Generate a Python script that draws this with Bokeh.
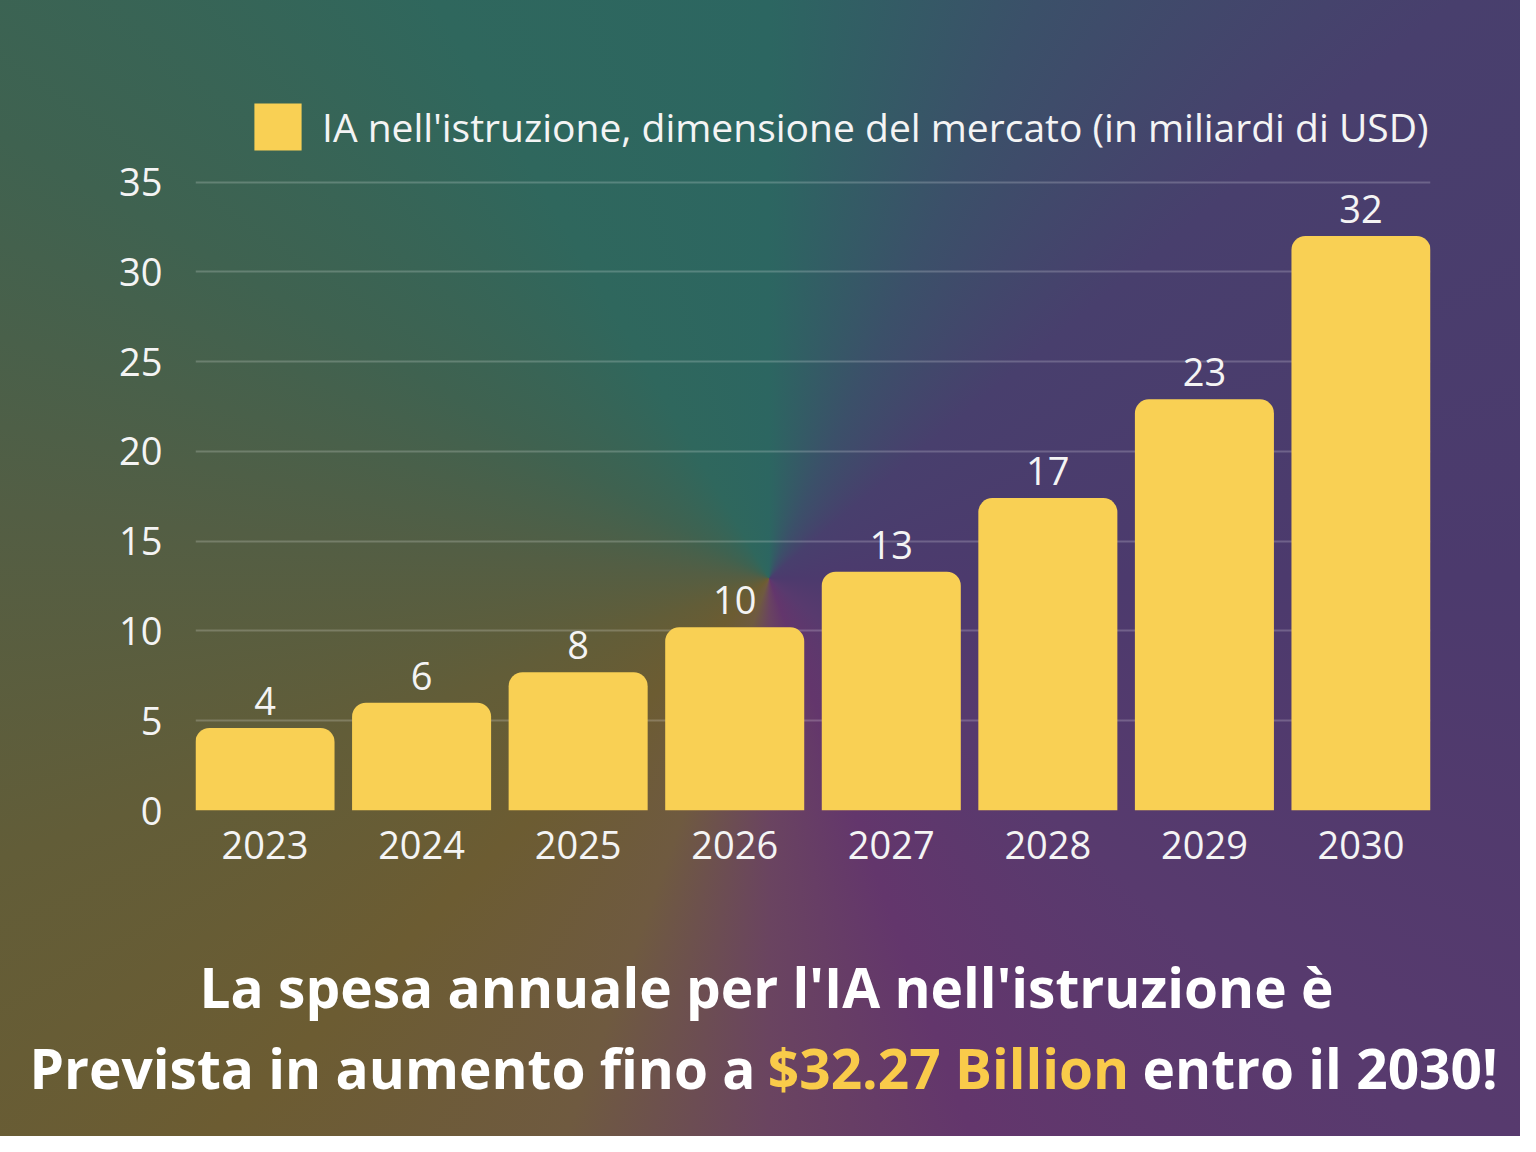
from bokeh.plotting import figure
from bokeh.layouts import column
from bokeh.models import ColumnDataSource, Legend, LegendItem, Label, Range1d, FixedTicker
from bokeh.core.properties import value
from bokeh.embed import file_html
from bokeh.resources import INLINE

# ---- data ----
years = [2023, 2024, 2025, 2026, 2027, 2028, 2029, 2030]
market = [4.6, 6.0, 7.7, 10.2, 13.3, 17.4, 22.9, 32.0]
bar_labels = ["4", "6", "8", "10", "13", "17", "23", "32"]
y_ticks = [0, 5, 10, 15, 20, 25, 30, 35]
legend_label = "IA nell'istruzione, dimensione del mercato (in miliardi di USD)"
title_line1 = "La spesa annuale per l'IA nell'istruzione è"
title_line2_a = "Prevista in aumento fino a"
title_line2_b = "$32.27 Billion"
title_line2_c = "entro il 2030!"

FONT = "Open Sans"
BAR = "#F9D054"
HIGHLIGHT = "#F9CB4A"
TXT = "#F4F4F4"
W, H = 1520, 1136
TOP_H = 152      # legend strip
MAIN_H = 748     # chart
BOT_H = H - TOP_H - MAIN_H  # headline strip


def bare(fig):
    fig.outline_line_color = None
    fig.background_fill_alpha = 0
    fig.border_fill_alpha = 0
    if "frame_align" in fig.properties():
        fig.frame_align = False


src = ColumnDataSource(dict(x=years, top=market, lbl=bar_labels))
bar_w = 0.888

# ---- legend strip ----
lf = figure(width=W, height=TOP_H, title=None, output_backend="svg",
            toolbar_location=None, x_range=Range1d(0, 1), y_range=Range1d(0, 1),
            min_border=0, x_axis_type=None, y_axis_type=None)
bare(lf)
lf.grid.visible = False
# same bar series; it lies outside this strip's range, only its swatch shows
swatch = lf.vbar(x="x", top="top", width=bar_w, source=src,
                 fill_color=BAR, line_color=None)
GS = 59  # legend glyph box (swatch is drawn at ~80% of it)
legend = Legend(items=[LegendItem(label=legend_label, renderers=[swatch])],
                location=(248, TOP_H - 156))
legend.glyph_width = GS
legend.glyph_height = GS
legend.label_standoff = 15
legend.padding = 0
legend.margin = 0
legend.border_line_color = None
legend.background_fill_alpha = 0
legend.label_text_font = FONT
legend.label_text_font_size = "39px"
legend.label_text_color = TXT
legend.label_height = GS
lf.add_layout(legend)

# ---- chart ----
p = figure(
    width=W, height=MAIN_H, title=None,
    output_backend="svg", toolbar_location=None,
    x_range=Range1d(years[0] - bar_w / 2, years[-1] + bar_w / 2),
    y_range=Range1d(0, 35.2),
    min_border_left=195, min_border_right=W - 1430,
    min_border_top=178 - TOP_H, min_border_bottom=TOP_H + MAIN_H - 810,
)
bare(p)

p.vbar(x="x", top="top", width=bar_w, source=src,
       fill_color=BAR, line_color=None, border_radius=(14, 14, 0, 0))

p.text(x="x", y="top", text="lbl", source=src,
       text_align="center", text_baseline="bottom", y_offset=-13,
       text_font=value(FONT), text_font_size="38px", text_color=TXT)

p.xgrid.visible = False
p.ygrid.ticker = FixedTicker(ticks=y_ticks)
p.ygrid.grid_line_color = "white"
p.ygrid.grid_line_alpha = 0.2
p.ygrid.grid_line_width = 2

for ax in (p.xaxis[0], p.yaxis[0]):
    ax.axis_line_color = None
    ax.major_tick_line_color = None
    ax.minor_tick_line_color = None
    ax.major_label_text_font = FONT
    ax.major_label_text_font_size = "38px"
    ax.major_label_text_color = TXT
p.yaxis.ticker = FixedTicker(ticks=y_ticks)
p.yaxis.major_label_standoff = 27
p.xaxis.ticker = FixedTicker(ticks=years)
p.xaxis.major_label_overrides = {y: str(y) for y in years}
p.xaxis.major_label_standoff = 14

# ---- headline strip (coordinates in page pixels) ----
y0 = TOP_H + MAIN_H
h = figure(width=W, height=BOT_H, title=None,
           output_backend="svg", toolbar_location=None,
           x_range=Range1d(0, W), y_range=Range1d(H, y0),
           min_border=0, x_axis_type=None, y_axis_type=None)
bare(h)
h.grid.visible = False


def lab(x, y, text, align, color):
    h.add_layout(Label(x=x, y=y, text=text, text_align=align,
                       text_baseline="alphabetic", text_font=FONT,
                       text_font_size="55px", text_font_style="bold",
                       text_color=color))


lab(766, 986, title_line1, "center", "white")
lab(755, 1067, title_line2_a, "right", "white")
lab(948, 1067, title_line2_b, "center", HIGHLIGHT)
lab(1142, 1067, title_line2_c, "left", "white")

page = column(lf, p, h, spacing=0)
page.styles = {
    "background": "conic-gradient(from 0deg at 50.6% 50.9%, "
    "#2c6661 0deg, #3b5069 25deg, #483f6d 50deg, #4c3a6d 90deg, "
    "#583a6e 130deg, #63366c 160deg, #6a4460 180deg, #6f5a40 200deg, "
    "#6c5c32 225deg, #625d38 250deg, #535e44 275deg, #3f6250 300deg, "
    "#2f675d 330deg, #2c6661 360deg)"
}

open("out.html", "w").write(file_html(page, INLINE))
